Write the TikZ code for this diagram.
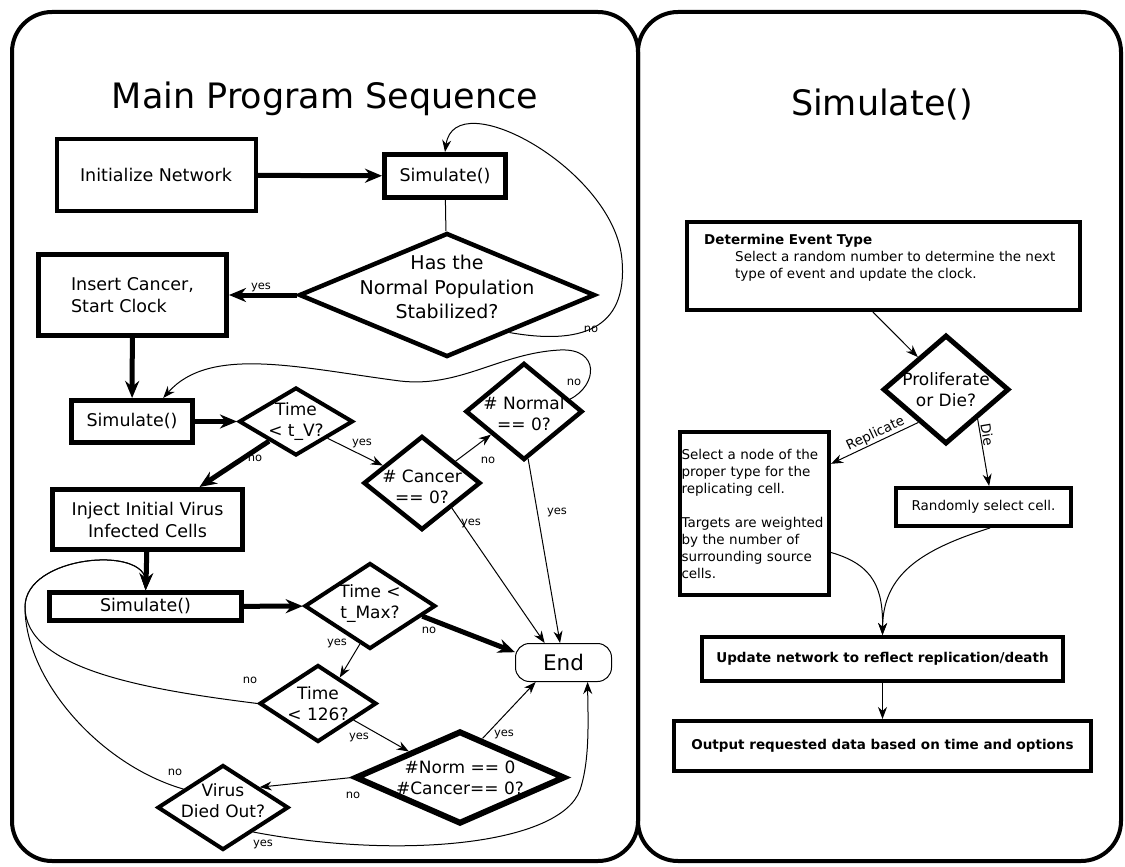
\documentclass[tikz,border=0pt]{standalone}
\usepackage{fontspec}
\setmainfont{DejaVu Sans}
\usetikzlibrary{shapes.geometric,arrows.meta}

\newcommand{\titlefont}{\fontsize{35}{42}\selectfont}
\newcommand{\boxfont}{\fontsize{17.5}{22}\selectfont}
\newcommand{\askfont}{\fontsize{17}{21}\selectfont}
\newcommand{\notefont}{\fontsize{13.5}{17}\selectfont}
\newcommand{\tagfont}{\fontsize{11.5}{13}\selectfont}

\tikzset{
  panel/.style={draw, line width=4pt, rounded corners=40pt},
  procbox/.style={draw, line width=4.5pt, inner sep=0pt, font=\boxfont, align=center},
  notebox/.style={draw, line width=4pt, inner sep=0pt, font=\notefont, align=center},
  askbox/.style={diamond, draw, line width=4.5pt, inner sep=0pt},
  asktext/.style={font=\askfont, align=center, inner sep=0pt},
  bigflow/.style={-{Stealth[length=17pt,width=14pt]}, line width=5pt},
  flow/.style={-{Stealth[length=12pt,width=9pt]}, line width=1pt},
  tag/.style={font=\tagfont, inner sep=1pt},
}

\begin{document}
\begin{tikzpicture}[x=1pt,y=-1pt]
\useasboundingbox (0,0) rectangle (1125,867);

% the two panels
\draw[panel] (12,12) rectangle (638,861);
\draw[panel] (638,12) rectangle (1121,861);

\node[anchor=base, font=\titlefont] (maintitle) at (325,108) {Main Program Sequence};
\node[anchor=base, font=\titlefont] (simtitle) at (882,115) {Simulate()};

% main program sequence
\node[procbox, line width=4pt, minimum width=199, minimum height=72] (init) at (156,175) {Initialize Network};
\node[procbox, line width=5pt, minimum width=121, minimum height=43] (sima) at (445,176) {Simulate()};
\node[askbox, minimum width=296, minimum height=124,
      label={[asktext, font=\fontsize{19}{24.5}\selectfont, yshift=8pt]center:Has the\\Normal Population\\Stabilized?}] (hs) at (447,295) {};
\node[procbox, line width=5pt, minimum width=188, minimum height=81, align=left] (ic) at (132.5,295) {Insert Cancer,\\Start Clock};
\node[procbox, line width=5pt, minimum width=121, minimum height=42] (simb) at (132,421.5) {Simulate()};
\node[askbox, line width=4pt, minimum width=114, minimum height=68,
      label={[asktext]center:Time\\< t\_V?}] (tv) at (296,421.5) {};
\node[procbox, line width=5pt, minimum width=190, minimum height=60] (ij) at (147.5,519.5) {Inject Initial Virus\\Infected Cells};
\node[askbox, minimum width=117, minimum height=94,
      label={[asktext, yshift=-4pt]center:\# Cancer\\== 0?}] (nc) at (422,483) {};
\node[askbox, minimum width=117, minimum height=97,
      label={[asktext, yshift=-2pt]center:\# Normal\\== 0?}] (nm) at (524,411.5) {};
\node[procbox, line width=5pt, minimum width=192, minimum height=28] (simc) at (145.5,606.5) {Simulate()};
\node[askbox, line width=4pt, minimum width=131, minimum height=86,
      label={[asktext, yshift=2pt]center:Time <\\t\_Max?}] (tm) at (370,606) {};
\node[draw, line width=1pt, rounded corners=14pt, minimum width=96, minimum height=38,
      font=\fontsize{21.5}{26}\selectfont] (endn) at (563.5,662.5) {End};
\node[askbox, line width=4pt, minimum width=117, minimum height=77,
      label={[asktext]center:Time\\< 126?}] (tc) at (318,703.5) {};
\node[askbox, line width=6pt, minimum width=210, minimum height=93,
      label={[asktext]center:\#Norm == 0\\\#Cancer== 0?}] (nz) at (460,777.5) {};
\node[askbox, line width=4pt, minimum width=131, minimum height=85,
      label={[asktext, yshift=7pt]center:Virus\\Died Out?}] (vd) at (223,807.5) {};

\draw[bigflow] (init) -- (sima);
\draw[line width=1pt] (sima) -- (hs);
\draw[bigflow] (hs.west) -- (ic.east);
\draw[flow] (hs.-31) .. controls (580,345) and (628,330) .. (622,260)
  .. controls (615,170) and (455,82) .. (sima.north);
\draw[bigflow] (ic) -- (simb);
\draw[bigflow] (simb) -- (tv);
\draw[bigflow] (tv.-144) -- (ij.32);
\draw[flow] (tv.-28) -- (nc.156);
\draw[flow] (nc.33) -- (nm.-145);
\draw[flow] (nm.15) .. controls (598,385) and (600,348) .. (560,350)
  .. controls (500,353) and (460,388) .. (400,381)
  .. controls (300,368) and (210,345) .. (simb.37);
\draw[flow] (nc.-40) -- (endn.134);
\draw[flow] (nm.-85) -- (endn.100);
\draw[flow] (tc.west) .. controls (150,690) and (25,670) .. (25,607)
  .. controls (25,555) and (147,545) .. (simc.north);
\draw[flow] (vd.155) .. controls (100,765) and (25,680) .. (25,607)
  .. controls (25,555) and (147,545) .. (simc.north);
\draw[bigflow] (ij) -- (simc);
\draw[bigflow] (simc) -- (tm);
\draw[bigflow] (tm.-11) -- (endn.168);
\draw[flow] (tm.-105) -- (tc.50);
\draw[flow] (tc.-25) -- (nz.153);
\draw[flow] (nz.60) -- (endn.-145);
\draw[flow] (nz.west) -- (vd.29);
\draw[flow] (vd.-39) .. controls (400,860) and (560,845) .. (580,790)
  .. controls (590,760) and (588,720) .. (endn.-39);

\node[tag] (hsyes) at (261,287) {yes};
\node[tag] (hsno) at (591,329) {no};
\node[tag] (tvyes) at (362,443) {yes};
\node[tag] (tvno) at (255,458) {no};
\node[tag] (ncno) at (488,460) {no};
\node[tag] (nmno) at (574,382) {no};
\node[tag] (ncyes) at (471,523) {yes};
\node[tag] (nmyes) at (557,512) {yes};
\node[tag] (tmno) at (429,630) {no};
\node[tag] (tmyes) at (337,643) {yes};
\node[tag] (tcno) at (250,680) {no};
\node[tag] (tcyes) at (359,737) {yes};
\node[tag] (nzyes) at (504,734) {yes};
\node[tag] (nzno) at (353,795) {no};
\node[tag] (vdno) at (175,772) {no};
\node[tag] (vdyes) at (263,844) {yes};

% simulate()
\node[notebox, minimum width=393, minimum height=88] (det) at (883.5,266) {};
\node[anchor=north west, inner sep=0pt, font=\notefont, align=left] (dettxt) at (704,234)
  {\textbf{Determine Event Type}\\\hspace*{31pt}Select a random number to determine the next\\\hspace*{31pt}type of event and update the clock.};
\node[askbox, line width=5pt, minimum width=126, minimum height=109,
      label={[asktext]center:Proliferate\\or Die?}] (pd) at (946,389.5) {};
\node[notebox, minimum width=149, minimum height=163, text width=146, inner xsep=1.5pt, align=left] (sel) at (754.5,513.5)
  {Select a node of the\\proper type for the\\replicating cell.\\[17pt]Targets are weighted\\by the number of\\surrounding source\\cells.};
\node[notebox, minimum width=175, minimum height=38] (rnd) at (983.5,507) {Randomly select cell.};
\node[notebox, minimum width=361, minimum height=44, font=\notefont\bfseries] (upd) at (882.5,659) {Update network to reflect replication/death};
\node[notebox, minimum width=417, minimum height=50, font=\notefont\bfseries] (out) at (882.5,746) {Output requested data based on time and options};

\draw[flow] (det.-103) -- (pd.131);
\draw[flow] (pd.-130) -- node[tag, sloped, above, pos=0.45, font=\notefont] (lrep) {Replicate} (sel.33);
\draw[flow] (pd.-43) -- node[tag, sloped, above, pos=0.25, font=\notefont] (ldie) {Die} (rnd.75);
\draw[flow] (sel.-27) .. controls (875,565) and (883,590) .. (upd.north);
\draw[flow] (rnd.-73) .. controls (920,550) and (883,575) .. (upd.north);
\draw[flow] (upd) -- (out);
\end{tikzpicture}
\end{document}
